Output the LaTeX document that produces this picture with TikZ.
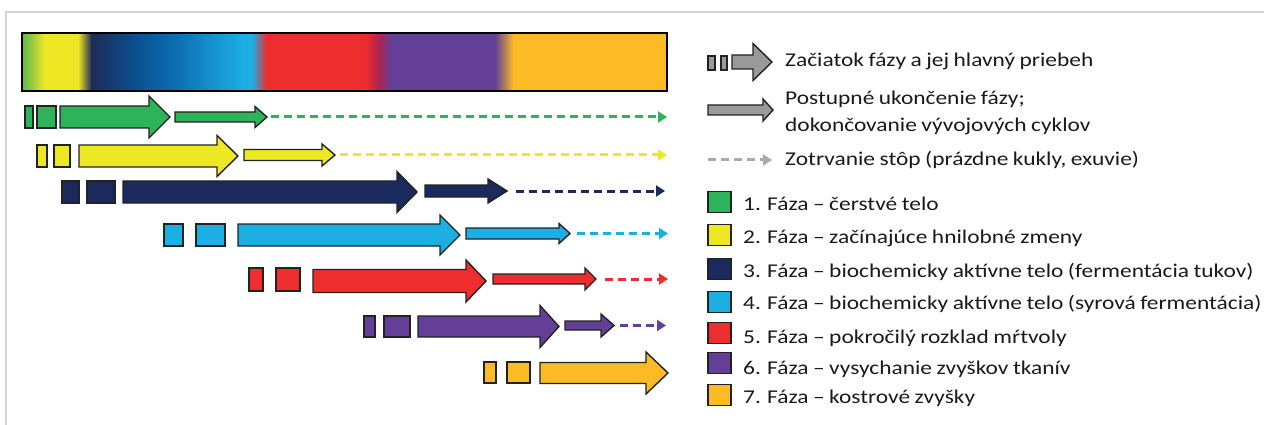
\documentclass[tikz,border=0pt]{standalone}
\usepackage{fontspec}
\setmainfont{Carlito}[FakeStretch=1.2,WordSpace=0.85]
\usetikzlibrary{arrows.meta}
\definecolor{cA}{HTML}{2DB35A}
\definecolor{cB}{HTML}{EEE824}
\definecolor{cC}{HTML}{1B2A5C}
\definecolor{cD}{HTML}{1DAEE4}
\definecolor{cE}{HTML}{EE2D2E}
\definecolor{cF}{HTML}{633F98}
\definecolor{cG}{HTML}{FCBA24}
\definecolor{gG1}{HTML}{5DB947}
\definecolor{gG2}{HTML}{A8CF3A}
\definecolor{gN}{HTML}{1E2A58}
\definecolor{gB1}{HTML}{0A4D8C}
\definecolor{gB2}{HTML}{0C6DB0}
\definecolor{gM}{HTML}{B2234F}
\definecolor{legray}{HTML}{9A9A9A}
\definecolor{dashgray}{HTML}{AAAAAA}
\definecolor{framecol}{HTML}{D4D4D4}
\definecolor{outl}{HTML}{222222}
\definecolor{txt}{HTML}{1A1A1A}
\newcommand\blkarrow[7]{%
  \draw[arrowline, fill=#1] (#2,#5-#6) -- (#3,#5-#6) -- (#3,#5-#7) -- (#4,#5) -- (#3,#5+#7) -- (#3,#5+#6) -- (#2,#5+#6) -- cycle;}
\newcommand\blkrect[5]{%
  \draw[arrowline, fill=#1] (#2,#4-#5) rectangle (#3,#4+#5);}
\newcommand\dasharrow[4]{%
  \draw[dashline, draw=#1] (#2,#4) -- (#3,#4);}
\newcommand\gseg[4]{%
  \shade[left color=#3, right color=#4] (#1,33) rectangle ({#2+0.6},91);}
\tikzset{
  arrowline/.style={draw=outl, line width=1.4pt, line join=miter},
  dashline/.style={line width=3pt, dash pattern=on 8pt off 5pt, -{Triangle[length=9pt,width=11pt]}},
  legtext/.style={anchor=base west, inner sep=0pt, text=txt, font=\fontsize{19.5}{23}\selectfont},
}
\begin{document}
\begin{tikzpicture}[x=1pt,y=-1pt]
\useasboundingbox (0,0) rectangle (1264,425);
\draw[framecol, line width=1.5pt] (6,425) -- (6,12) -- (1264,12);
% gradient bar
\gseg{22}{34}{gG1}{gG2}
\gseg{34}{44}{gG2}{cB}
\gseg{44}{78}{cB}{cB}
\gseg{78}{91}{cB}{gN}
\gseg{91}{131}{gN}{gB1}
\gseg{131}{174}{gB1}{gB2}
\gseg{174}{243}{gB2}{cD}
\gseg{243}{252}{cD}{cD}
\gseg{252}{266}{cD}{cE}
\gseg{266}{365}{cE}{cE}
\gseg{365}{378}{cE}{gM}
\gseg{378}{391}{gM}{cF}
\gseg{391}{495}{cF}{cF}
\gseg{495}{513}{cF}{cG}
\fill[cG] (513,33) rectangle (667,91);
\draw[black, line width=2.4pt] (22,33) rectangle (667,91);
% row 1
\blkrect{cA}{25}{33}{117}{11}
\blkrect{cA}{37}{56}{117}{11}
\blkarrow{cA}{60}{149}{170}{117}{11}{21}
\blkarrow{cA}{175}{255}{267}{117}{5}{10.5}
\dasharrow{cA}{271}{667}{117}
% row 2
\blkrect{cB}{37}{47}{156}{11}
\blkrect{cB}{54}{70}{156}{11}
\blkarrow{cB}{79}{217}{238}{156}{11}{20.5}
\blkarrow{cB}{244}{322}{335}{155}{5.5}{11}
\dasharrow{cB}{340}{667}{155}
% row 3
\blkrect{cC}{62}{79}{192}{11}
\blkrect{cC}{87}{115}{192}{11}
\blkarrow{cC}{123}{397}{417}{192}{11}{20.5}
\blkarrow{cC}{425}{488}{507}{191}{6}{12}
\dasharrow{cC}{516}{665}{191}
% row 4
\blkrect{cD}{164}{183}{235}{11}
\blkrect{cD}{196}{225}{235}{11}
\blkarrow{cD}{238}{440}{460}{235}{11}{20}
\blkarrow{cD}{466}{559}{570}{233.5}{5.5}{10}
\dasharrow{cD}{577}{668}{233.5}
% row 5
\blkrect{cE}{249}{263}{279.5}{11.5}
\blkrect{cE}{276}{300}{279.5}{11.5}
\blkarrow{cE}{313}{466}{486}{281}{11.5}{21}
\blkarrow{cE}{493}{585}{596}{279}{5}{11}
\dasharrow{cE}{605}{668}{279}
% row 6
\blkrect{cF}{364}{375}{326.5}{10.5}
\blkrect{cF}{384}{410}{326.5}{10.5}
\blkarrow{cF}{418}{540}{559}{326.5}{10.5}{21}
\blkarrow{cF}{565}{601}{614}{325.5}{4.5}{11.5}
\dasharrow{cF}{620}{666}{325.5}
% row 7
\blkrect{cG}{484}{496}{372.5}{10.5}
\blkrect{cG}{507}{530}{372.5}{10.5}
\blkarrow{cG}{540}{646}{668}{373}{10.5}{21}
% legend
\blkrect{legray}{708}{715}{63}{7}
\blkrect{legray}{721}{727}{63}{7}
\blkarrow{legray}{732}{753}{772}{62}{7}{18.5}
\node[legtext] (t1) at (785,67) {Začiatok fázy a jej hlavný priebeh};
\blkarrow{legray}{708}{763}{773}{110}{5}{11}
\node[legtext] (t2a) at (785,105) {Postupné ukončenie fázy;};
\node[legtext] (t2b) at (785,132) {dokončovanie vývojových cyklov};
\dasharrow{dashgray}{708}{772}{160}
\node[legtext] (t3) at (785,166) {Zotrvanie stôp (prázdne kukly, exuvie)};
\blkrect{cA}{708}{731}{202}{10.5}
\node[legtext] (p1) at (743,211) {1. Fáza – čerstvé telo};
\blkrect{cB}{708}{731}{235}{10.5}
\node[legtext] (p2) at (743,243) {2. Fáza – začínajúce hnilobné zmeny};
\blkrect{cC}{708}{731}{269}{10.5}
\node[legtext] (p3) at (743,277) {3. Fáza – biochemicky aktívne telo (fermentácia tukov)};
\blkrect{cD}{708}{731}{302}{10.5}
\node[legtext] (p4) at (743,309) {4. Fáza – biochemicky aktívne telo (syrová fermentácia)};
\blkrect{cE}{708}{731}{333}{10.5}
\node[legtext] (p5) at (743,343) {5. Fáza – pokročilý rozklad mŕtvoly};
\blkrect{cF}{708}{731}{363}{10.5}
\node[legtext] (p6) at (743,374) {6. Fáza – vysychanie zvyškov tkanív};
\blkrect{cG}{708}{731}{395}{10.5}
\node[legtext] (p7) at (743,403) {7. Fáza – kostrové zvyšky};
\end{tikzpicture}
\end{document}
